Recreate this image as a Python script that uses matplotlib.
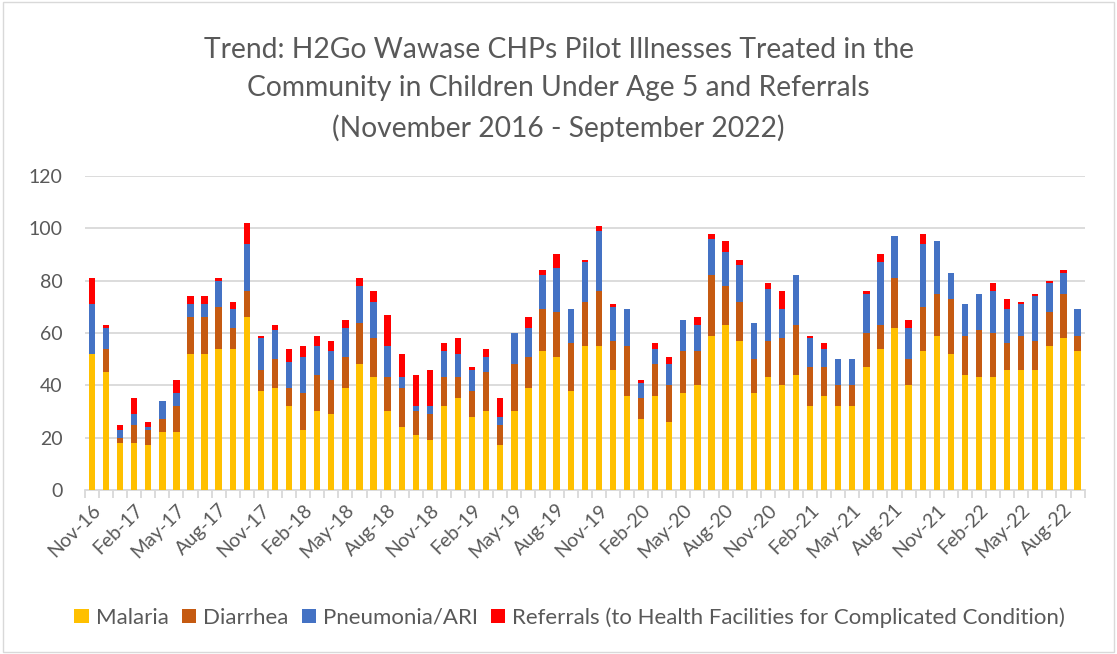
import numpy as np
import matplotlib.pyplot as plt
from matplotlib.patches import Rectangle

# monthly counts, Nov 2016 - Sep 2022
months = ['Nov-16', 'Dec-16',
          'Jan-17', 'Feb-17', 'Mar-17', 'Apr-17', 'May-17', 'Jun-17', 'Jul-17', 'Aug-17', 'Sep-17', 'Oct-17', 'Nov-17', 'Dec-17',
          'Jan-18', 'Feb-18', 'Mar-18', 'Apr-18', 'May-18', 'Jun-18', 'Jul-18', 'Aug-18', 'Sep-18', 'Oct-18', 'Nov-18', 'Dec-18',
          'Jan-19', 'Feb-19', 'Mar-19', 'Apr-19', 'May-19', 'Jun-19', 'Jul-19', 'Aug-19', 'Sep-19', 'Oct-19', 'Nov-19', 'Dec-19',
          'Jan-20', 'Feb-20', 'Mar-20', 'Apr-20', 'May-20', 'Jun-20', 'Jul-20', 'Aug-20', 'Sep-20', 'Oct-20', 'Nov-20', 'Dec-20',
          'Jan-21', 'Feb-21', 'Mar-21', 'Apr-21', 'May-21', 'Jun-21', 'Jul-21', 'Aug-21', 'Sep-21', 'Oct-21', 'Nov-21', 'Dec-21',
          'Jan-22', 'Feb-22', 'Mar-22', 'Apr-22', 'May-22', 'Jun-22', 'Jul-22', 'Aug-22', 'Sep-22']

malaria = [52, 45,
           18, 18, 17, 22, 22, 52, 52, 54, 54, 66, 38, 39,
           32, 23, 30, 29, 39, 48, 43, 30, 24, 21, 19, 32,
           35, 28, 30, 17, 30, 39, 53, 51, 38, 55, 55, 46,
           36, 27, 36, 26, 37, 40, 59, 63, 57, 37, 43, 40,
           44, 32, 36, 32, 32, 47, 54, 62, 40, 53, 59, 52,
           44, 43, 43, 46, 46, 46, 55, 58, 53]
diarrhea = [0, 9,
            2, 7, 6, 5, 10, 14, 14, 16, 8, 10, 8, 11,
            7, 14, 14, 13, 12, 16, 15, 13, 15, 9, 10, 11,
            8, 10, 15, 8, 18, 12, 16, 17, 18, 17, 21, 11,
            19, 8, 12, 14, 16, 13, 23, 15, 15, 13, 14, 18,
            19, 15, 11, 8, 8, 13, 9, 19, 10, 17, 16, 21,
            15, 18, 17, 10, 13, 11, 13, 17, 6]
pneumonia = [19, 8,
             3, 4, 1, 7, 5, 5, 5, 10, 7, 18, 12, 11,
             10, 14, 11, 11, 11, 14, 14, 12, 4, 2, 3, 10,
             9, 8, 6, 3, 12, 11, 13, 17, 13, 15, 23, 13,
             14, 6, 6, 8, 12, 10, 14, 13, 14, 14, 20, 11,
             19, 11, 7, 10, 10, 15, 24, 16, 12, 24, 20, 10,
             12, 14, 16, 13, 12, 17, 11, 8, 10]
referrals = [10, 1,
             2, 6, 2, 0, 5, 3, 3, 1, 3, 8, 1, 2,
             5, 4, 4, 4, 3, 3, 4, 12, 9, 12, 14, 3,
             6, 1, 3, 7, 0, 4, 2, 5, 0, 1, 2, 1,
             0, 1, 2, 3, 0, 3, 2, 4, 2, 0, 2, 7,
             0, 1, 2, 0, 0, 1, 3, 0, 3, 4, 0, 0,
             0, 0, 3, 4, 1, 1, 1, 1, 0]

series = [('Malaria', malaria, '#FFC000'),
          ('Diarrhea', diarrhea, '#C55A11'),
          ('Pneumonia/ARI', pneumonia, '#4472C4'),
          ('Referrals (to Health Facilities for Complicated Condition)', referrals, '#FF0000')]

plt.rcParams['font.family'] = ['Lato', 'DejaVu Sans']
fig = plt.figure(figsize=(11.17, 6.54), dpi=100)
ax = fig.add_axes([0.076, 0.2508, 0.895, 0.4801])

x = np.arange(len(months))
bottom = np.zeros(len(months))
for name, vals, col in series:
    vals = np.array(vals)
    ax.bar(x, vals, 0.45, bottom=bottom, color=col, label=name, zorder=3)
    bottom += vals

ax.set_xlim(-0.5, len(months) - 0.5)
ax.set_ylim(0, 120)
ax.set_yticks(range(0, 121, 20))
ax.yaxis.grid(True, color='#D9D9D9', linewidth=1.3, zorder=0)
ax.tick_params(axis='y', length=0, labelsize=14, labelcolor='#595959', pad=16)

ax.set_xticks(x[::3])
ax.set_xticklabels(months[::3], rotation=45, ha='right', rotation_mode='anchor')
ax.set_xticks(np.arange(-0.5, len(months), 1), minor=True)
ax.tick_params(axis='x', which='major', length=0, labelsize=14, labelcolor='#595959', pad=8)
ax.tick_params(axis='x', which='minor', length=6, color='#D9D9D9', width=1.3)

for s in ['top', 'right', 'left']:
    ax.spines[s].set_visible(False)
ax.spines['bottom'].set_color('#D9D9D9')
ax.spines['bottom'].set_linewidth(1.3)

fig.text(0.5, 0.944, 'Trend: H2Go Wawase CHPs Pilot Illnesses Treated in the\n'
         'Community in Children Under Age 5 and Referrals\n'
         '(November 2016 - September 2022)',
         ha='center', va='top', fontsize=20.3, color='#595959', linespacing=1.59)

ax.legend(loc='center', bbox_to_anchor=(0.485, -0.406), ncol=4, frameon=False,
          fontsize=16, labelcolor='#595959', handlelength=0.65, handleheight=0.65,
          handletextpad=0.3, columnspacing=0.6)

fig.patches.append(Rectangle((0.003, 0.003), 0.994, 0.994, transform=fig.transFigure,
                             fill=False, edgecolor='#D9D9D9', linewidth=1))

fig.savefig('out.png', dpi=100)
